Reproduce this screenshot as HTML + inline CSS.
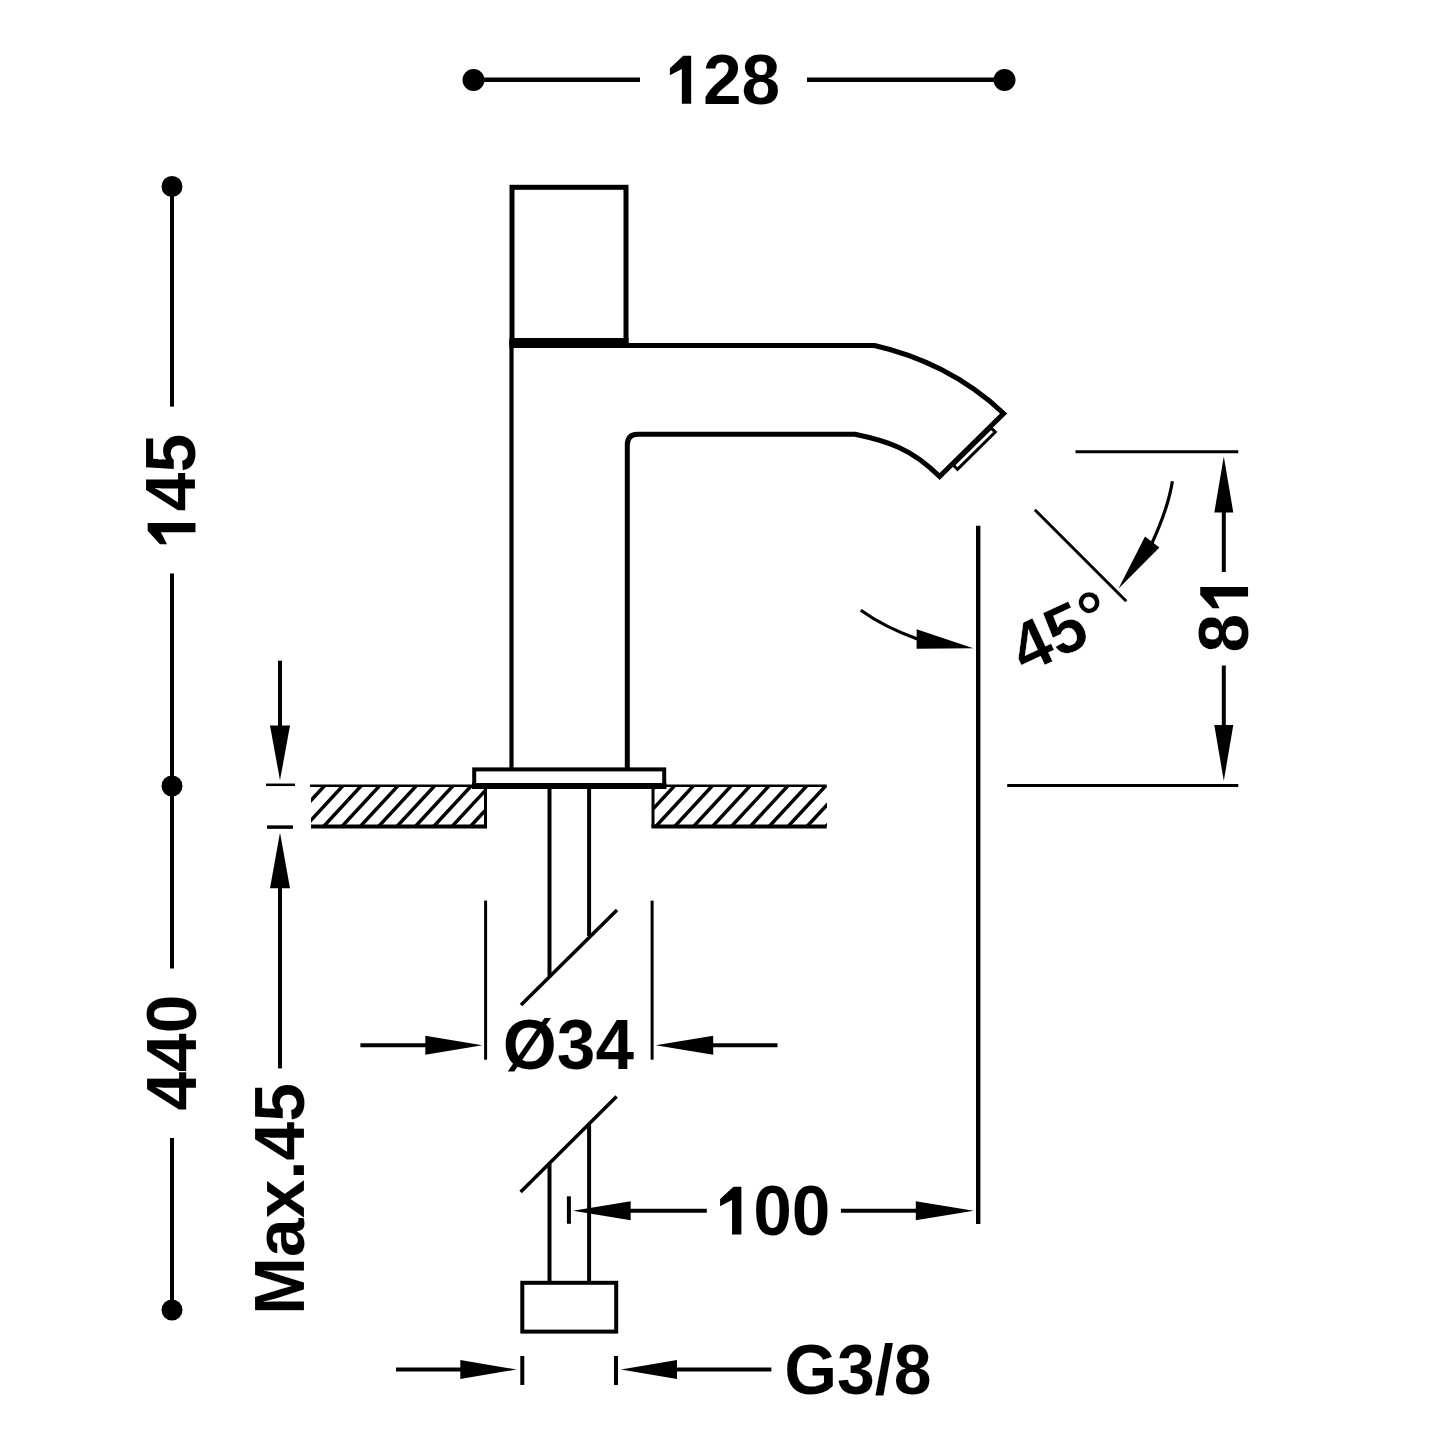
<!DOCTYPE html>
<html><head><meta charset="utf-8"><style>
html,body{margin:0;padding:0;background:#fff;width:1445px;height:1445px;overflow:hidden}
svg{display:block}
text{font-family:"Liberation Sans",sans-serif;font-weight:bold;fill:#000}
</style></head><body>
<svg width="1445" height="1445" viewBox="0 0 1445 1445">
<g stroke="#000" fill="none">
<circle cx="473.5" cy="80" r="11" fill="#000" stroke="none"/>
<circle cx="1004.5" cy="80" r="11" fill="#000" stroke="none"/>
<line x1="473.5" y1="79.8" x2="640" y2="79.8" stroke-width="4.5"/>
<line x1="807" y1="79.8" x2="1004.5" y2="79.8" stroke-width="4.5"/>
<g transform="translate(724.00,79.75) rotate(0) scale(1.0,1.0) translate(-59.71,23.92)"><text x="0" y="0" font-size="69.5" fill="#000" stroke="#fff" stroke-width="0.1"><tspan fill="transparent" stroke="none">1</tspan>28</text><path d="M792 0L517 0L517 1020L165 838L165 1045L560 1409L792 1409Z" transform="translate(0.000,0) scale(0.03394,-0.03394)" fill="#000" stroke="none"/></g>
<circle cx="172" cy="186.5" r="10.5" fill="#000" stroke="none"/>
<circle cx="172" cy="786" r="10.5" fill="#000" stroke="none"/>
<circle cx="172" cy="1310" r="10.5" fill="#000" stroke="none"/>
<line x1="172" y1="186.5" x2="172" y2="406.6" stroke-width="4"/>
<line x1="172" y1="573.4" x2="172" y2="968.5" stroke-width="4"/>
<line x1="172" y1="1138" x2="172" y2="1310" stroke-width="4"/>
<g transform="translate(171.90,490.00) rotate(-90) scale(1.0,1.0) translate(-59.81,23.57)"><text x="0" y="0" font-size="69.5" fill="#000" stroke="#fff" stroke-width="0.1"><tspan fill="transparent" stroke="none">1</tspan>45</text><path d="M792 0L517 0L517 1020L165 838L165 1045L560 1409L792 1409Z" transform="translate(0.000,0) scale(0.03394,-0.03394)" fill="#000" stroke="none"/></g>
<g transform="translate(172.25,1053.45) rotate(-90) scale(1.0,1.0) translate(-57.08,23.92)"><text x="0" y="0" font-size="69.5" fill="#000" stroke="#fff" stroke-width="0.1">440</text></g>
<rect x="512" y="187.3" width="114" height="155" stroke-width="5" fill="none"/>
<line x1="509.5" y1="343" x2="628.5" y2="343" stroke-width="10"/>
<line x1="511.5" y1="340" x2="511.5" y2="769" stroke-width="4.2"/>
<path d="M627.3,769 L627.3,445 Q627.3,434.3 638,434.3 L855,434.3 C887.6,441.1 911.6,448.6 939.6,476.6 L1003.6,413.5 C965.5,377.2 918.6,355.4 874.4,345.5 L628,345.5" fill="none" stroke-width="5" stroke-linejoin="miter"/>
<polygon points="991.1,427.9 953.3,465.1 957.5,469.3 995.3,432.1" fill="none" stroke-width="3"/>
<rect x="474.2" y="769.4" width="190" height="16" stroke-width="4" fill="none"/>
<line x1="472" y1="786" x2="666.5" y2="786" stroke-width="6"/>
<line x1="310" y1="785.7" x2="487" y2="785.7" stroke-width="2.5"/>
<line x1="311" y1="826.5" x2="487" y2="826.5" stroke-width="4"/>
<line x1="485.5" y1="786" x2="485.5" y2="828" stroke-width="3"/>
<line x1="651.6" y1="785.7" x2="826.7" y2="785.7" stroke-width="2.5"/>
<line x1="651.6" y1="826.5" x2="826.7" y2="826.5" stroke-width="4"/>
<line x1="653" y1="786" x2="653" y2="828" stroke-width="3"/>
<clipPath id="cl"><rect x="311" y="786" width="175" height="40"/><rect x="653" y="786" width="174" height="40"/></clipPath>
<g clip-path="url(#cl)">
<line x1="208.33333333333326" y1="832" x2="252.7777777777777" y2="784" stroke-width="3.5"/>
<line x1="226.68333333333325" y1="832" x2="271.1277777777777" y2="784" stroke-width="3.5"/>
<line x1="245.03333333333327" y1="832" x2="289.4777777777777" y2="784" stroke-width="3.5"/>
<line x1="263.38333333333327" y1="832" x2="307.8277777777777" y2="784" stroke-width="3.5"/>
<line x1="281.7333333333333" y1="832" x2="326.17777777777775" y2="784" stroke-width="3.5"/>
<line x1="300.0833333333333" y1="832" x2="344.52777777777777" y2="784" stroke-width="3.5"/>
<line x1="318.43333333333334" y1="832" x2="362.8777777777778" y2="784" stroke-width="3.5"/>
<line x1="336.78333333333336" y1="832" x2="381.2277777777778" y2="784" stroke-width="3.5"/>
<line x1="355.1333333333334" y1="832" x2="399.57777777777784" y2="784" stroke-width="3.5"/>
<line x1="373.4833333333334" y1="832" x2="417.92777777777786" y2="784" stroke-width="3.5"/>
<line x1="391.8333333333334" y1="832" x2="436.2777777777779" y2="784" stroke-width="3.5"/>
<line x1="410.18333333333345" y1="832" x2="454.6277777777779" y2="784" stroke-width="3.5"/>
<line x1="428.5333333333335" y1="832" x2="472.97777777777793" y2="784" stroke-width="3.5"/>
<line x1="446.8833333333335" y1="832" x2="491.32777777777795" y2="784" stroke-width="3.5"/>
<line x1="465.2333333333335" y1="832" x2="509.677777777778" y2="784" stroke-width="3.5"/>
<line x1="483.58333333333354" y1="832" x2="528.027777777778" y2="784" stroke-width="3.5"/>
<line x1="501.93333333333356" y1="832" x2="546.3777777777781" y2="784" stroke-width="3.5"/>
<line x1="537.2333333333335" y1="832" x2="581.6777777777779" y2="784" stroke-width="3.5"/>
<line x1="556.1333333333334" y1="832" x2="600.5777777777779" y2="784" stroke-width="3.5"/>
<line x1="575.0333333333334" y1="832" x2="619.4777777777779" y2="784" stroke-width="3.5"/>
<line x1="593.9333333333334" y1="832" x2="638.3777777777779" y2="784" stroke-width="3.5"/>
<line x1="612.8333333333334" y1="832" x2="657.2777777777778" y2="784" stroke-width="3.5"/>
<line x1="631.7333333333333" y1="832" x2="676.1777777777778" y2="784" stroke-width="3.5"/>
<line x1="650.6333333333333" y1="832" x2="695.0777777777778" y2="784" stroke-width="3.5"/>
<line x1="669.5333333333333" y1="832" x2="713.9777777777778" y2="784" stroke-width="3.5"/>
<line x1="688.4333333333333" y1="832" x2="732.8777777777777" y2="784" stroke-width="3.5"/>
<line x1="707.3333333333333" y1="832" x2="751.7777777777777" y2="784" stroke-width="3.5"/>
<line x1="726.2333333333332" y1="832" x2="770.6777777777777" y2="784" stroke-width="3.5"/>
<line x1="745.1333333333332" y1="832" x2="789.5777777777777" y2="784" stroke-width="3.5"/>
<line x1="764.0333333333332" y1="832" x2="808.4777777777776" y2="784" stroke-width="3.5"/>
<line x1="782.9333333333332" y1="832" x2="827.3777777777776" y2="784" stroke-width="3.5"/>
<line x1="801.8333333333331" y1="832" x2="846.2777777777776" y2="784" stroke-width="3.5"/>
<line x1="820.7333333333331" y1="832" x2="865.1777777777776" y2="784" stroke-width="3.5"/>
<line x1="839.6333333333331" y1="832" x2="884.0777777777776" y2="784" stroke-width="3.5"/>
</g>
<line x1="549.5" y1="788" x2="549.5" y2="976" stroke-width="4"/>
<line x1="589.1" y1="788" x2="589.1" y2="936" stroke-width="4"/>
<line x1="521" y1="1005" x2="617" y2="910" stroke-width="3.5"/>
<line x1="520.6" y1="1192" x2="616.6" y2="1096.6" stroke-width="3.5"/>
<line x1="549.5" y1="1164" x2="549.5" y2="1283" stroke-width="4"/>
<line x1="589.1" y1="1125" x2="589.1" y2="1283" stroke-width="4"/>
<line x1="485.6" y1="900.6" x2="485.6" y2="1059.7" stroke-width="3"/>
<line x1="652.1" y1="900.6" x2="652.1" y2="1059.7" stroke-width="3"/>
<line x1="360.4" y1="1045.3" x2="430" y2="1045.3" stroke-width="4"/>
<polygon fill="#000" stroke="none" points="482.4,1045.3 425.3,1054.8 425.3,1035.8"/>
<line x1="700" y1="1045.3" x2="777.5" y2="1045.3" stroke-width="4"/>
<polygon fill="#000" stroke="none" points="655.6,1045.3 713.2,1035.8 713.2,1054.8"/>
<g transform="translate(569.65,1044.75) rotate(0) scale(1.0,1.0) translate(-66.92,23.75)"><text x="0" y="0" font-size="69.5" fill="#000" stroke="#fff" stroke-width="0.1">Ø34</text></g>
<line x1="568.9" y1="1196.3" x2="568.9" y2="1223.8" stroke-width="4"/>
<polygon fill="#000" stroke="none" points="573.0,1210.8 630.7,1201.3 630.7,1220.3"/>
<line x1="625" y1="1210.8" x2="706.8" y2="1210.8" stroke-width="4"/>
<g transform="translate(773.85,1210.65) rotate(0) scale(1.0,1.0) translate(-59.35,23.92)"><text x="0" y="0" font-size="69.5" fill="#000" stroke="#fff" stroke-width="0.1"><tspan fill="transparent" stroke="none">1</tspan>00</text><path d="M792 0L517 0L517 1020L165 838L165 1045L560 1409L792 1409Z" transform="translate(0.000,0) scale(0.03394,-0.03394)" fill="#000" stroke="none"/></g>
<line x1="840.9" y1="1210.8" x2="920" y2="1210.8" stroke-width="4"/>
<polygon fill="#000" stroke="none" points="973.7,1210.8 915.8,1220.3 915.8,1201.3"/>
<line x1="978.2" y1="525.8" x2="978.2" y2="1224" stroke-width="4.4"/>
<path d="M860.8,610.3 Q884.3,627.2 918,639.3" fill="none" stroke-width="3.2"/>
<polygon fill="#000" stroke="none" points="916.6,629.2 916.6,648.8 973.3,648.3"/>
<line x1="1034.8" y1="509.8" x2="1126.3" y2="601.3" stroke-width="3"/>
<path d="M1172.4,481.2 Q1168.1,508.2 1152,543" fill="none" stroke-width="3.2"/>
<polygon fill="#000" stroke="none" points="1145,536.6 1159.4,547.4 1118.4,588.8"/>
<g transform="translate(1059.90,631.60) rotate(-25) scale(0.975,1.0) translate(-51.58,23.84)"><text x="0" y="0" font-size="69.5" fill="#000" stroke="#fff" stroke-width="0.5">45°</text></g>
<line x1="1075.5" y1="451.8" x2="1238.3" y2="451.8" stroke-width="3"/>
<line x1="1007.2" y1="785.5" x2="1238.3" y2="785.5" stroke-width="3"/>
<line x1="1223.8" y1="500" x2="1223.8" y2="572" stroke-width="4"/>
<polygon fill="#000" stroke="none" points="1223.8,456.5 1233.3,512.5 1214.3,512.5"/>
<line x1="1223.8" y1="665.5" x2="1223.8" y2="735" stroke-width="4"/>
<polygon fill="#000" stroke="none" points="1223.8,781.0 1214.3,725.0 1233.3,725.0"/>
<g transform="translate(1224.15,618.75) rotate(-90) scale(1.0,1.0) translate(-33.87,23.92)"><text x="0" y="0" font-size="69.5" fill="#000" stroke="#fff" stroke-width="0.1">8<tspan fill="transparent" stroke="none">1</tspan></text><path d="M792 0L517 0L517 1020L165 838L165 1045L560 1409L792 1409Z" transform="translate(38.653,0) scale(0.03394,-0.03394)" fill="#000" stroke="none"/></g>
<line x1="280" y1="660.7" x2="280" y2="730" stroke-width="4"/>
<polygon fill="#000" stroke="none" points="280.0,780.3 270.0,725.5 290.0,725.5"/>
<line x1="266" y1="784.8" x2="295" y2="784.8" stroke-width="2.5"/>
<line x1="267" y1="827.1" x2="293" y2="827.1" stroke-width="3.5"/>
<polygon fill="#000" stroke="none" points="280.0,832.5 290.0,888.3 270.0,888.3"/>
<line x1="280" y1="880" x2="280" y2="1068.4" stroke-width="4"/>
<g transform="translate(280.60,1197.65) rotate(-90) scale(1.0,1.0) translate(-117.26,23.57)"><text x="0" y="0" font-size="69.5" fill="#000" stroke="#fff" stroke-width="0.1">Max.45</text></g>
<rect x="522.3" y="1282.8" width="93.9" height="48.8" stroke-width="4" fill="none"/>
<line x1="522.3" y1="1356" x2="522.3" y2="1385" stroke-width="4"/>
<line x1="616" y1="1356" x2="616" y2="1385" stroke-width="4"/>
<line x1="396" y1="1369.5" x2="465" y2="1369.5" stroke-width="4"/>
<polygon fill="#000" stroke="none" points="516.5,1369.5 460.3,1379.0 460.3,1360.0"/>
<line x1="660" y1="1369.5" x2="771.4" y2="1369.5" stroke-width="4"/>
<polygon fill="#000" stroke="none" points="620.9,1369.5 677.0,1360.0 677.0,1379.0"/>
<g transform="translate(858.25,1369.80) rotate(0) scale(0.978,1.0) translate(-75.69,24.48)"><text x="0" y="0" font-size="69.5" fill="#000" stroke="#fff" stroke-width="0.1">G3/8</text></g>
</g>
</svg>
</body></html>
